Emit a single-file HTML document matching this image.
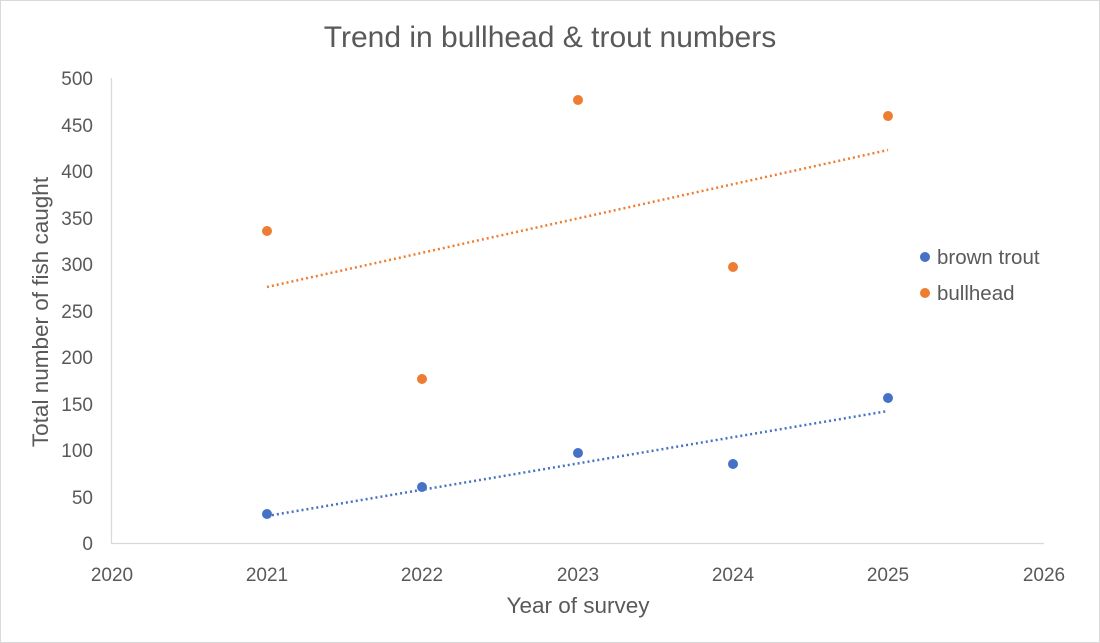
<!DOCTYPE html>
<html><head><style>body{margin:0;background:#fff}svg{display:block}</style></head><body>
<svg width="1100" height="643" xmlns="http://www.w3.org/2000/svg" font-family="Liberation Sans, sans-serif">
<rect x="0.5" y="0.5" width="1099" height="642" fill="#fff" stroke="#d9d9d9"/>
<text x="550" y="47" font-size="30" fill="#595959" text-anchor="middle">Trend in bullhead &amp; trout numbers</text>
<g stroke="#d9d9d9" stroke-width="1.3"><line x1="111.5" y1="78" x2="111.5" y2="543"/><line x1="111" y1="543.5" x2="1044" y2="543.5"/></g>
<g font-size="19" fill="#595959" text-anchor="end">
<text x="93" y="550">0</text><text x="93" y="504">50</text><text x="93" y="457">100</text><text x="93" y="411">150</text><text x="93" y="364">200</text><text x="93" y="318">250</text><text x="93" y="271">300</text><text x="93" y="225">350</text><text x="93" y="178">400</text><text x="93" y="132">450</text><text x="93" y="85">500</text></g>
<g font-size="19" fill="#595959" text-anchor="middle">
<text x="112" y="581">2020</text><text x="267" y="581">2021</text><text x="422" y="581">2022</text><text x="578" y="581">2023</text><text x="733" y="581">2024</text><text x="888" y="581">2025</text><text x="1044" y="581">2026</text></g>
<text x="578" y="613" font-size="22.5" fill="#595959" text-anchor="middle">Year of survey</text>
<text transform="translate(48,312) rotate(-90)" font-size="22.5" fill="#595959" text-anchor="middle">Total number of fish caught</text>
<g stroke-width="2.5" stroke-dasharray="2 3" fill="none">
<line x1="267" y1="287" x2="888" y2="150" stroke="#ed7d31"/>
<line x1="267" y1="516" x2="888" y2="411" stroke="#4472c4"/></g>
<g fill="#4472c4"><circle cx="267" cy="514" r="5"/><circle cx="422" cy="487" r="5"/><circle cx="578" cy="453" r="5"/><circle cx="733" cy="464" r="5"/><circle cx="888" cy="398" r="5"/></g>
<g fill="#ed7d31"><circle cx="267" cy="231" r="5"/><circle cx="422" cy="379" r="5"/><circle cx="578" cy="100" r="5"/><circle cx="733" cy="267" r="5"/><circle cx="888" cy="116" r="5"/></g>
<circle cx="925" cy="257" r="5" fill="#4472c4"/><text x="937" y="264" font-size="20.5" fill="#595959">brown trout</text>
<circle cx="925" cy="293" r="5" fill="#ed7d31"/><text x="937" y="300" font-size="20.5" fill="#595959">bullhead</text>
</svg></body></html>
